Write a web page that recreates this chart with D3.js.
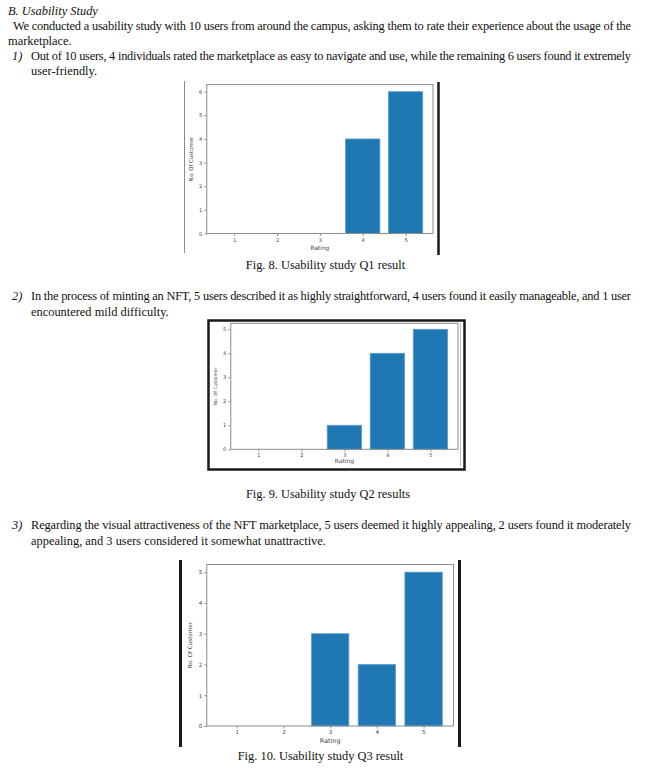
<!DOCTYPE html>
<html><head><meta charset="utf-8">
<script src="https://cdn.jsdelivr.net/npm/d3@7"></script>
<style>
html,body{margin:0;padding:0;background:#fff;}
svg{display:block;}
.body{font-family:"Liberation Serif","Times New Roman",serif;font-size:12.4px;fill:#111;}
.ax{font-family:"DejaVu Sans",sans-serif;fill:#444;}
</style></head>
<body>
<svg id="page" width="647" height="773"></svg>
<script>
// ---- data ----
const ratings = [1, 2, 3, 4, 5];
const q1Counts = [0, 0, 0, 4, 6];
const q2Counts = [0, 0, 1, 4, 5];
const q3Counts = [0, 0, 3, 2, 5];
const q1YTicks = [0, 1, 2, 3, 4, 5, 6];
const q2YTicks = [0, 1, 2, 3, 4, 5];
const q3YTicks = [0, 1, 2, 3, 4, 5];
const xLabel = "Rating";
const yLabel = "No. Of Customer";
const captions = ["Fig. 8. Usability study Q1 result", "Fig. 9. Usability study Q2 results", "Fig. 10. Usability study Q3 result"];

const svg = d3.select("#page");

// ---- document text ----
function line(x, y, txt, opts = {}) {
  const t = svg.append("text").attr("class", "body").attr("x", x).attr("y", y).text(txt);
  if (opts.italic) t.attr("font-style", "italic");
  if (opts.w) t.attr("textLength", opts.w).attr("lengthAdjust", "spacing");
  if (opts.anchor) t.attr("text-anchor", opts.anchor);
  return t;
}
line(8, 15, "B.  Usability Study", {italic: true});
line(13, 30, "We conducted a usability study with 10 users from around the campus, asking them to rate their experience about the usage of the", {w: 618});
line(8, 45, "marketplace.");
line(12, 60, "1)", {italic: true});
line(31, 60, "Out of 10 users, 4 individuals rated the marketplace as easy to navigate and use, while the remaining 6 users found it extremely", {w: 600});
line(31, 75, "user-friendly.");

line(12, 300, "2)", {italic: true});
line(31, 300, "In the process of minting an NFT, 5 users described it as highly straightforward, 4 users found it easily manageable, and 1 user", {w: 600});
line(31, 316, "encountered mild difficulty.");

line(12, 529, "3)", {italic: true});
line(31, 529, "Regarding the visual attractiveness of the NFT marketplace, 5 users deemed it highly appealing, 2 users found it moderately", {w: 600});
line(31, 545, "appealing, and 3 users considered it somewhat unattractive.");

line(325.5, 269, captions[0], {anchor: "middle"});
line(328, 498, captions[1], {anchor: "middle"});
line(320.5, 760, captions[2], {anchor: "middle"});

// ---- frames around the pasted figures ----
svg.append("line").attr("x1", 184.5).attr("x2", 184.5).attr("y1", 81).attr("y2", 253).attr("stroke", "#8a8a8a").attr("stroke-width", 1);
svg.append("line").attr("x1", 438.5).attr("x2", 438.5).attr("y1", 82).attr("y2", 255).attr("stroke", "#1a1a1a").attr("stroke-width", 2.5);

svg.append("rect").attr("x", 208.5).attr("y", 320.5).attr("width", 256).attr("height", 149).attr("fill", "none").attr("stroke", "#1a1a1a").attr("stroke-width", 2.5);
svg.append("line").attr("x1", 460.5).attr("x2", 460.5).attr("y1", 323).attr("y2", 466).attr("stroke", "#bbb").attr("stroke-width", 1);

svg.append("line").attr("x1", 180.5).attr("x2", 180.5).attr("y1", 560).attr("y2", 747).attr("stroke", "#1a1a1a").attr("stroke-width", 3);
svg.append("line").attr("x1", 459.5).attr("x2", 459.5).attr("y1", 560).attr("y2", 747).attr("stroke", "#1a1a1a").attr("stroke-width", 3);

// ---- chart builder ----
function chart(cfg) {
  const x = d3.scaleLinear().domain([0.36, 5.64]).range([cfg.left, cfg.right]);
  const y = d3.scaleLinear().domain([0, cfg.ymax]).range([cfg.bottom, cfg.top]);
  const g = svg.append("g");
  // bars
  g.selectAll("rect.bar").data(ratings.map((r, i) => ({r, v: cfg.counts[i]})).filter(d => d.v > 0))
    .enter().append("rect").attr("class", "bar")
    .attr("x", d => x(d.r - 0.4)).attr("width", d => x(d.r + 0.4) - x(d.r - 0.4))
    .attr("y", d => y(d.v)).attr("height", d => y(0) - y(d.v))
    .attr("fill", "#1f77b4").attr("stroke", "#5f9fcc").attr("stroke-width", 0.8);
  // axes
  const fmt = d3.format("d");
  const xa = d3.axisBottom(x).tickValues(ratings).tickFormat(fmt).tickSize(2.5).tickPadding(2);
  const ya = d3.axisLeft(y).tickValues(cfg.yticks).tickFormat(fmt).tickSize(2.5).tickPadding(2);
  const gx = g.append("g").attr("transform", `translate(0,${cfg.bottom})`).call(xa);
  const gy = g.append("g").attr("transform", `translate(${cfg.left},0)`).call(ya);
  [gx, gy].forEach(a => {
    a.attr("font-family", "DejaVu Sans").attr("font-size", cfg.tickFs);
    a.select(".domain").remove();
    a.selectAll(".tick line").attr("stroke", "#777").attr("stroke-width", 0.8);
    a.selectAll(".tick text").attr("fill", "#444");
  });
  // spines (box)
  g.append("rect").attr("x", cfg.left).attr("y", cfg.top).attr("width", cfg.right - cfg.left).attr("height", cfg.bottom - cfg.top)
    .attr("fill", "none").attr("stroke", "#8c8c8c").attr("stroke-width", 1);
  // labels
  g.append("text").attr("class", "ax").attr("x", (cfg.left + cfg.right) / 2).attr("y", cfg.xlabY)
    .attr("text-anchor", "middle").attr("dominant-baseline", "middle").attr("font-size", cfg.xlabFs).text(xLabel);
  g.append("text").attr("class", "ax").attr("transform", `translate(${cfg.ylabX},${(cfg.top + cfg.bottom) / 2}) rotate(-90)`)
    .attr("text-anchor", "middle").attr("dominant-baseline", "middle").attr("font-size", cfg.ylabFs).text(yLabel);
}

chart({counts: q1Counts, yticks: q1YTicks, ymax: 6.3, left: 206.8, right: 433, top: 84.6, bottom: 233.5,
       tickFs: 5.2, xlabFs: 5.8, ylabFs: 5.4, xlabY: 248.3, ylabX: 191.7});
chart({counts: q2Counts, yticks: q2YTicks, ymax: 5.25, left: 230.8, right: 458, top: 323.3, bottom: 449.3,
       tickFs: 5, xlabFs: 6, ylabFs: 4.6, xlabY: 461.7, ylabX: 215.7});
chart({counts: q3Counts, yticks: q3YTicks, ymax: 5.25, left: 206.8, right: 453.5, top: 564.5, bottom: 726,
       tickFs: 5.6, xlabFs: 6.4, ylabFs: 5.6, xlabY: 741.7, ylabX: 190.7});
</script>
</body></html>
